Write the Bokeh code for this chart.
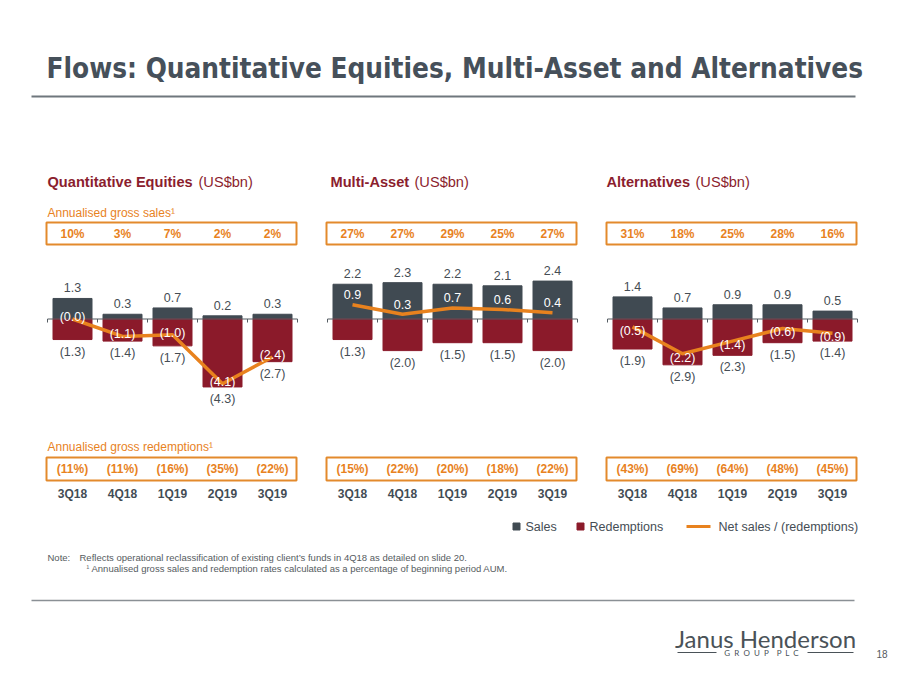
import math
from bokeh.plotting import figure
from bokeh.models import Range1d
from bokeh.embed import file_html
from bokeh.resources import INLINE
from bokeh.core.properties import value

# ---------------- data ----------------
quarters = ["3Q18", "4Q18", "1Q19", "2Q19", "3Q19"]

qe_sales = [1.3, 0.3, 0.7, 0.2, 0.3]
qe_red = [-1.3, -1.4, -1.7, -4.3, -2.7]
qe_net = [-0.0, -1.1, -1.0, -4.1, -2.4]
qe_sales_rate = ["10%", "3%", "7%", "2%", "2%"]
qe_red_rate = ["(11%)", "(11%)", "(16%)", "(35%)", "(22%)"]

ma_sales = [2.2, 2.3, 2.2, 2.1, 2.4]
ma_red = [-1.3, -2.0, -1.5, -1.5, -2.0]
ma_net = [0.9, 0.3, 0.7, 0.6, 0.4]
ma_sales_rate = ["27%", "27%", "29%", "25%", "27%"]
ma_red_rate = ["(15%)", "(22%)", "(20%)", "(18%)", "(22%)"]

alt_sales = [1.4, 0.7, 0.9, 0.9, 0.5]
alt_red = [-1.9, -2.9, -2.3, -1.5, -1.4]
alt_net = [-0.5, -2.2, -1.4, -0.6, -0.9]
alt_sales_rate = ["31%", "18%", "25%", "28%", "16%"]
alt_red_rate = ["(43%)", "(69%)", "(64%)", "(48%)", "(45%)"]

panel_titles = ["Quantitative Equities", "Multi-Asset", "Alternatives"]
unit_label = "(US$bn)"

# ---------------- styling ----------------
W, H = 896, 671
FONT = "Liberation Sans"
DARK = "#434c54"
SALES_C = "#404a52"
RED_C = "#8b1a2a"
ORANGE = "#e8821e"
BOX_C = "#e38a2c"
TITLE_RED = "#8b1e2e"
TXT = "#454d54"


def fx(X):
    return X


def fy(Y):
    return H - Y


BASE = 318.5
S = 15.8  # pixels per US$bn


def fmt(v):
    if math.copysign(1.0, v) < 0:
        return "(%.1f)" % abs(v)
    return "%.1f" % v


p = figure(width=W, height=H, output_backend="svg", toolbar_location=None,
           x_range=Range1d(0, W), y_range=Range1d(0, H),
           min_border=0, min_border_left=0, min_border_right=0,
           min_border_top=0, min_border_bottom=0)
p.extra_y_ranges = {"v": Range1d(-fy(BASE) / S, (H - fy(BASE)) / S)}
p.axis.visible = False
p.grid.visible = False
p.outline_line_color = None
p.background_fill_color = "white"
p.border_fill_color = "white"


def txt(x, y, s, size="12px", color=TXT, style="normal", align="left",
        baseline="middle", font=FONT, yr=None):
    kw = dict(x=x if isinstance(x, list) else [x],
              y=y if isinstance(y, list) else [y],
              text=s if isinstance(s, list) else [s],
              text_font=value(font), text_font_size=size, text_color=color,
              text_font_style=style, text_align=align, text_baseline=baseline)
    if yr:
        kw["y_range_name"] = yr
    p.text(**kw)


# title
txt(fx(46), fy(68), "Flows: Quantitative Equities, Multi-Asset and Alternatives",
    size="27.7px", color="#46505a", style="bold",
    font="'Liberation Sans Narrow', 'Noto Sans Condensed', 'DejaVu Sans Condensed', 'Liberation Sans', sans-serif")
p.segment(x0=[fx(31)], y0=[fy(96)], x1=[fx(855)], y1=[fy(96)],
          line_color="#6f777d", line_width=2)

panels = [
    (47, qe_sales, qe_red, qe_net, qe_sales_rate, qe_red_rate, 47, 198, 2),
    (327, ma_sales, ma_red, ma_net, ma_sales_rate, ma_red_rate, 330, 414, 10),
    (607, alt_sales, alt_red, alt_net, alt_sales_rate, alt_red_rate, 606, 695, -4),
]
CW = 50
BW = 39

for k, (left, sales, red, net, srate, rrate, title_x, unit_x, net_off) in enumerate(panels):
    centers = [fx(left) + CW / 2 + CW * i for i in range(len(quarters))]
    bounds = [fx(left) + CW * i for i in range(len(quarters) + 1)]

    # panel title
    txt(fx(title_x), fy(181), panel_titles[k], size="14.6px",
        color=TITLE_RED, style="bold")
    txt(fx(unit_x), fy(181), unit_label, size="14.6px", color=TITLE_RED)

    # sales rate box
    p.quad(left=[fx(left - 1)], right=[fx(left + 249)], top=[fy(222)], bottom=[fy(244)],
           fill_color=None, line_color=BOX_C, line_width=2)
    txt(centers, [fy(233.5)] * 5, srate, size="12px", color=ORANGE, style="bold",
        align="center")
    # redemption rate box
    p.quad(left=[fx(left - 1)], right=[fx(left + 249)], top=[fy(457)], bottom=[fy(480)],
           fill_color=None, line_color=BOX_C, line_width=2)
    txt(centers, [fy(468.5)] * 5, rrate, size="12px", color=ORANGE, style="bold",
        align="center")
    # category labels
    txt(centers, [fy(493)] * 5, quarters, size="12px", color=DARK, style="bold",
        align="center")

    # bars
    p.vbar(x=centers, top=sales, bottom=0, width=BW, fill_color=SALES_C,
           line_color=SALES_C, y_range_name="v")
    p.vbar(x=centers, top=0, bottom=red, width=BW, fill_color=RED_C,
           line_color=RED_C, y_range_name="v")
    # axis + ticks
    p.segment(x0=[bounds[0]], y0=[0], x1=[bounds[-1]], y1=[0], line_color="#555d63",
              line_width=1, y_range_name="v")
    p.segment(x0=bounds, y0=[0] * len(bounds), x1=bounds, y1=[-3.5 / S] * len(bounds),
              line_color="#555d63", line_width=1, y_range_name="v")
    # net line
    p.line(centers, net, line_color=ORANGE, line_width=3.5, y_range_name="v")

    # labels
    txt(centers, [v + 10.5 / S for v in sales], [fmt(v) for v in sales], size="12.5px",
        color=TXT, align="center", yr="v")
    txt(centers, [v - 12 / S for v in red], [fmt(v) for v in red], size="12.5px",
        color=TXT, align="center", yr="v")
    txt(centers, [v + net_off / S for v in net], [fmt(v) for v in net], size="12.5px",
        color="white", align="center", yr="v")

# annotation labels
txt(fx(47), fy(212), "Annualised gross sales\u00b9", size="12px", color=ORANGE)
txt(fx(47), fy(446), "Annualised gross redemptions\u00b9", size="12px", color=ORANGE)

# legend
p.scatter(x=[fx(516)], y=[fy(526)], marker="square", size=7, fill_color=SALES_C,
          line_color=SALES_C)
txt(fx(525), fy(526), "Sales", size="12.5px", color=TXT)
p.scatter(x=[fx(580)], y=[fy(526)], marker="square", size=7, fill_color=RED_C,
          line_color=RED_C)
txt(fx(589), fy(526), "Redemptions", size="12.5px", color=TXT)
p.segment(x0=[fx(686)], y0=[fy(526)], x1=[fx(710)], y1=[fy(526)],
          line_color=ORANGE, line_width=3)
txt(fx(718), fy(526), "Net sales / (redemptions)", size="12.5px", color=TXT)

# notes
txt(fx(47), fy(557), "Note:", size="9.5px", color="#555b60")
txt(fx(79), fy(557), "Reflects operational reclassification of existing client\u2019s funds in 4Q18 as detailed on slide 20.",
    size="9.5px", color="#555b60")
txt(fx(86), fy(568), "\u00b9", size="8px", color="#555b60")
txt(fx(91), fy(568), "Annualised gross sales and redemption rates calculated as a percentage of beginning period AUM.",
    size="9.5px", color="#555b60")

# footer
p.segment(x0=[fx(31)], y0=[fy(600)], x1=[fx(854)], y1=[fy(600)],
          line_color="#8a9095", line_width=1.5)
txt(fx(765), fy(638), "Janus Henderson", size="24px", color="#4a5258", align="center",
    baseline="alphabetic", font="Lato")
txt(fx(761), fy(652), "G\u00a0\u00a0R\u00a0\u00a0O\u00a0\u00a0U\u00a0\u00a0P\u00a0\u00a0\u00a0\u00a0P\u00a0\u00a0L\u00a0\u00a0C",
    size="8px", color="#4a5258", align="center", font="Lato")
p.segment(x0=[fx(677), fx(807)], y0=[fy(652), fy(652)], x1=[fx(716), fx(853)],
          y1=[fy(652), fy(652)], line_color="#4a5258", line_width=1)
txt(fx(876), fy(653), "18", size="10px", color="#555b60")

open("out.html", "w").write(file_html(p, INLINE))
